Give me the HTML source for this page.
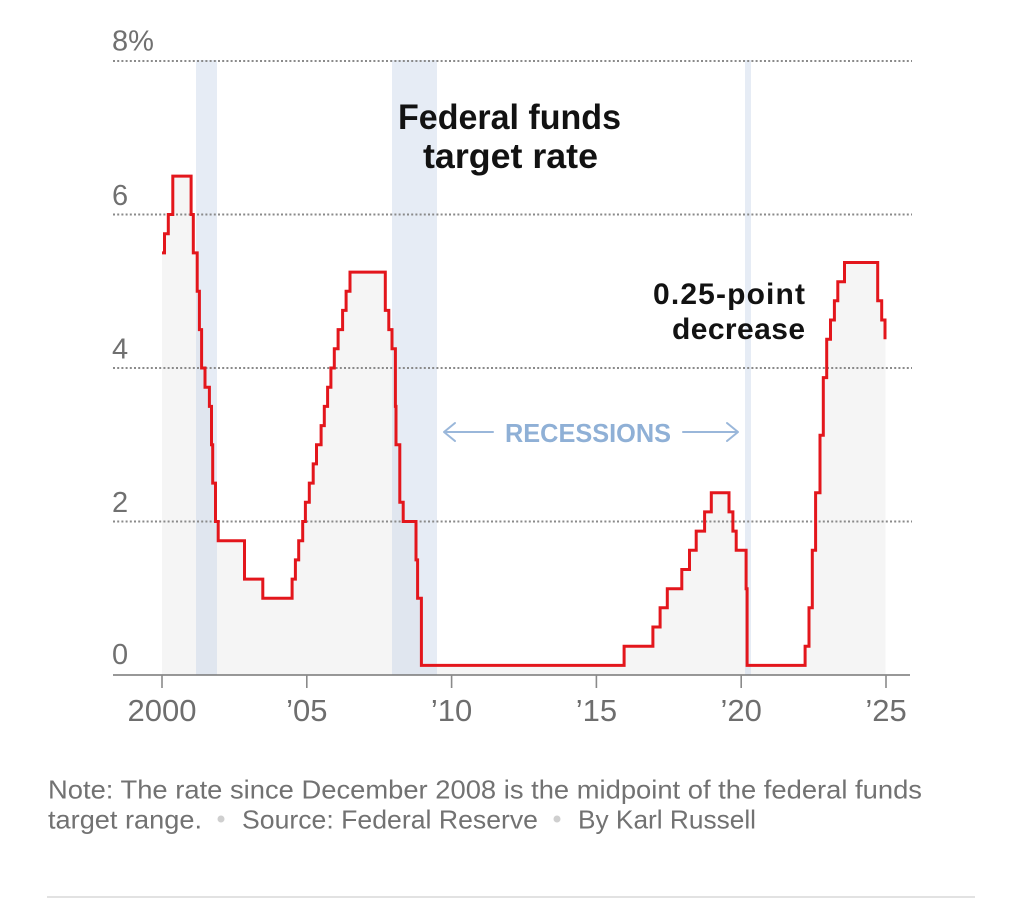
<!DOCTYPE html>
<html><head><meta charset="utf-8"><style>
html,body{margin:0;padding:0;background:#fff;}
svg{display:block;}
</style></head><body>
<svg width="1024" height="905" viewBox="0 0 1024 905" xmlns="http://www.w3.org/2000/svg" font-family="'Liberation Sans', Arial, sans-serif">
<rect width="1024" height="905" fill="#fff"/>
<path fill="#f5f5f5" d="M162,252.9 H164.5 V233.7 H168.3 V214.5 H172.8 V176.1 H191.1 V214.5 H193.3 V252.9 H197.2 V291.3 H199.4 V329.6 H201.6 V368.0 H205.0 V387.2 H209.4 V406.4 H211.5 V444.8 H212.7 V483.1 H215.5 V521.5 H218.2 V540.7 H244.5 V579.1 H262.8 V598.3 H292.1 V579.1 H295.4 V559.9 H298.7 V540.7 H302.7 V521.5 H305.4 V502.3 H309.3 V483.1 H313.2 V463.9 H316.5 V444.8 H321.1 V425.6 H324.3 V406.4 H327.6 V387.2 H330.9 V368.0 H334.3 V348.8 H338.1 V329.6 H342.6 V310.4 H346.1 V291.3 H350.0 V272.1 H385.3 V310.4 H388.8 V329.6 H392.0 V348.8 H395.4 V406.4 H396.0 V444.8 H399.8 V502.3 H403.2 V521.5 H416.0 V559.9 H417.6 V598.3 H421.4 V665.4 H624.1 V646.2 H652.9 V627.0 H660.1 V607.8 H667.3 V588.7 H681.8 V569.5 H689.5 V550.3 H696.2 V531.1 H704.6 V511.9 H711.3 V492.7 H729.0 V511.9 H732.9 V531.1 H736.2 V550.3 H746.1 V588.7 H747.1 V665.4 H805.1 V646.2 H809.0 V607.8 H812.3 V550.3 H815.6 V492.7 H820.0 V435.2 H823.3 V377.6 H826.7 V339.2 H830.5 V320.0 H834.4 V300.8 H837.8 V281.7 H844.5 V262.5 H877.7 V300.8 H881.7 V320.0 H885.5 V675 H162 Z"/>
<g fill="rgb(192,208,230)" fill-opacity="0.4">
<rect x="196" y="60" width="21" height="615"/>
<rect x="392" y="60" width="45" height="615"/>
<rect x="745" y="60" width="6" height="615"/>
</g>
<g stroke="#8a8a8a" stroke-width="2" stroke-dasharray="2 2.2">
<line x1="113" y1="61" x2="912" y2="61"/>
<line x1="113" y1="214.5" x2="912" y2="214.5"/>
<line x1="113" y1="368" x2="912" y2="368"/>
<line x1="113" y1="521.5" x2="912" y2="521.5"/>
</g>
<g fill="#707070" font-size="29">
<text x="112" y="50.5">8%</text>
<text x="112" y="205">6</text>
<text x="112" y="358.5">4</text>
<text x="112" y="512">2</text>
<text x="112" y="664">0</text>
</g>
<line x1="113" y1="675" x2="910" y2="675" stroke="#777" stroke-width="1.6"/>
<g stroke="#8a8a8a" stroke-width="1.6">
<line x1="162" y1="675" x2="162" y2="688"/>
<line x1="306.8" y1="675" x2="306.8" y2="688"/>
<line x1="451.6" y1="675" x2="451.6" y2="688"/>
<line x1="596.4" y1="675" x2="596.4" y2="688"/>
<line x1="741.2" y1="675" x2="741.2" y2="688"/>
<line x1="886" y1="675" x2="886" y2="688"/>
</g>
<g fill="#6e6e6e" font-size="31" text-anchor="middle">
<text x="162" y="721">2000</text>
<text x="306.8" y="721">’05</text>
<text x="451.6" y="721">’10</text>
<text x="596.4" y="721">’15</text>
<text x="741.2" y="721">’20</text>
<text x="886" y="721">’25</text>
</g>
<path fill="none" stroke="#e3161c" stroke-width="3" stroke-linejoin="miter" d="M162,252.9 H164.5 V233.7 H168.3 V214.5 H172.8 V176.1 H191.1 V214.5 H193.3 V252.9 H197.2 V291.3 H199.4 V329.6 H201.6 V368.0 H205.0 V387.2 H209.4 V406.4 H211.5 V444.8 H212.7 V483.1 H215.5 V521.5 H218.2 V540.7 H244.5 V579.1 H262.8 V598.3 H292.1 V579.1 H295.4 V559.9 H298.7 V540.7 H302.7 V521.5 H305.4 V502.3 H309.3 V483.1 H313.2 V463.9 H316.5 V444.8 H321.1 V425.6 H324.3 V406.4 H327.6 V387.2 H330.9 V368.0 H334.3 V348.8 H338.1 V329.6 H342.6 V310.4 H346.1 V291.3 H350.0 V272.1 H385.3 V310.4 H388.8 V329.6 H392.0 V348.8 H395.4 V406.4 H396.0 V444.8 H399.8 V502.3 H403.2 V521.5 H416.0 V559.9 H417.6 V598.3 H421.4 V665.4 H624.1 V646.2 H652.9 V627.0 H660.1 V607.8 H667.3 V588.7 H681.8 V569.5 H689.5 V550.3 H696.2 V531.1 H704.6 V511.9 H711.3 V492.7 H729.0 V511.9 H732.9 V531.1 H736.2 V550.3 H746.1 V588.7 H747.1 V665.4 H805.1 V646.2 H809.0 V607.8 H812.3 V550.3 H815.6 V492.7 H820.0 V435.2 H823.3 V377.6 H826.7 V339.2 H830.5 V320.0 H834.4 V300.8 H837.8 V281.7 H844.5 V262.5 H877.7 V300.8 H881.7 V320.0 H885.0 V339.2"/>
<g fill="#121212" font-weight="bold" font-size="35">
<text x="398" y="129" textLength="223" lengthAdjust="spacingAndGlyphs">Federal funds</text>
<text x="423" y="168" textLength="175" lengthAdjust="spacingAndGlyphs">target rate</text>
</g>
<g fill="#121212" font-weight="bold" font-size="30" text-anchor="end">
<text x="805" y="304" textLength="152" lengthAdjust="spacing">0.25-point</text>
<text x="805" y="339" textLength="133" lengthAdjust="spacing">decrease</text>
</g>
<text x="505" y="442" fill="#8fb0d6" font-weight="bold" font-size="26" textLength="166" lengthAdjust="spacingAndGlyphs">RECESSIONS</text>
<g stroke="#9ab7da" stroke-width="2" fill="none" stroke-linecap="round" stroke-linejoin="round">
<line x1="445" y1="432" x2="493" y2="432"/>
<polyline points="455,423 444,432 455,441"/>
<line x1="683" y1="432" x2="737" y2="432"/>
<polyline points="727,423 738,432 727,441"/>
</g>
<g fill="#727272" font-size="26">
<text x="48" y="798.5" textLength="874" lengthAdjust="spacingAndGlyphs">Note: The rate since December 2008 is the midpoint of the federal funds</text>
<text x="48" y="828.5" textLength="154" lengthAdjust="spacingAndGlyphs">target range.</text>
<text x="242" y="828.5" textLength="296" lengthAdjust="spacingAndGlyphs">Source: Federal Reserve</text>
<text x="578" y="828.5" textLength="178" lengthAdjust="spacingAndGlyphs">By Karl Russell</text>
</g>
<circle cx="221" cy="819" r="3.5" fill="#cfcfcf"/>
<circle cx="557" cy="819" r="3.5" fill="#cfcfcf"/>
<rect x="47" y="896" width="928" height="2" fill="#e2e2e2"/>
</svg>
</body></html>
